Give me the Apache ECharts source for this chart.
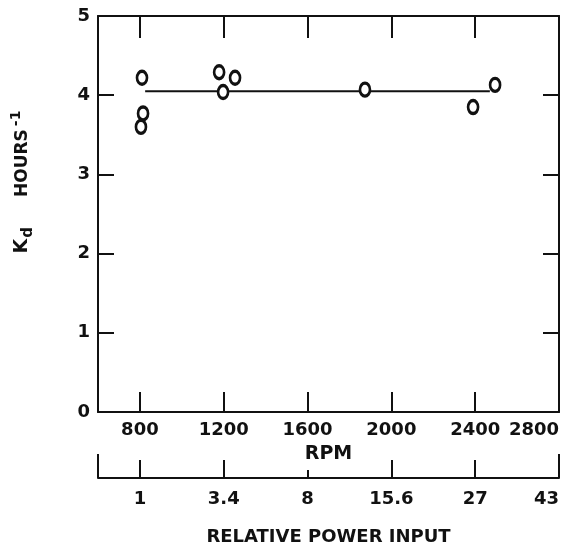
<!DOCTYPE html>
<html>
<head>
<meta charset="utf-8">
<script src="https://cdn.jsdelivr.net/npm/echarts@6/dist/echarts.min.js"></script>
<style>
  html, body { margin: 0; padding: 0; background: #fff; }
  #main { width: 568px; height: 544px; }
</style>
</head>
<body>
<div id="main"></div>
<script>
// measured points (rpm, Kd)
var rpm = [810, 815, 805, 1178, 1254, 1197, 1874, 2390, 2495];
var kd = [4.22, 3.77, 3.60, 4.29, 4.22, 4.04, 4.07, 3.85, 4.13];
// fitted mean line
var lineRpm = [825, 2470];
var lineKd = [4.05, 4.05];
// axis ticks
var rpmTicks = [800, 1200, 1600, 2000, 2400, 2800];
var powerLabels = ['1', '3.4', '8', '15.6', '27', '43'];
var kdTicks = [0, 1, 2, 3, 4, 5];

var ink = '#111';
var font = 'DejaVu Sans';
var lbl = { color: ink, fontFamily: font, fontWeight: 'bold', fontSize: 18 };

var chart = echarts.init(document.getElementById('main'));

function powerLabel(v) {
  var i = rpmTicks.indexOf(v);
  return i >= 0 ? powerLabels[i] : '';
}
function plain(v) { return String(v); }

var tickStyle = { color: ink, width: 2 };
var lineStyle = { onZero: false, lineStyle: { color: ink, width: 2 } };

var option = {
  animation: false,
  grid: [
    { left: 98, right: 9, top: 16, bottom: 132, outerBoundsMode: 'none' },
    { left: 98, right: 9, top: 477, height: 1, outerBoundsMode: 'none' }
  ],
  xAxis: [
    {
      gridIndex: 0, type: 'value', min: 600, max: 2800, position: 'bottom',
      name: 'RPM', nameLocation: 'middle', nameGap: 33,
      nameTextStyle: Object.assign({}, lbl, { fontSize: 19 }),
      axisLine: lineStyle,
      axisTick: { inside: true, length: 20, customValues: [800, 1200, 1600, 2000, 2400], lineStyle: tickStyle },
      axisLabel: Object.assign({}, lbl, { customValues: rpmTicks, margin: 9, alignMaxLabel: 'right', formatter: plain }),
      splitLine: { show: false }
    },
    {
      gridIndex: 0, type: 'value', min: 600, max: 2800, position: 'top',
      axisLine: lineStyle,
      axisTick: { inside: true, length: 22, customValues: [800, 1200, 1600, 2000, 2400], lineStyle: tickStyle },
      axisLabel: { show: false },
      splitLine: { show: false }
    },
    {
      gridIndex: 1, type: 'value', min: 600, max: 2800, position: 'bottom',
      name: 'RELATIVE POWER INPUT', nameLocation: 'middle', nameGap: 50,
      nameTextStyle: Object.assign({}, lbl, { fontSize: 18 }),
      axisLine: lineStyle,
      axisTick: { inside: true, length: 18, customValues: [800, 1200, 2000, 2400], lineStyle: tickStyle },
      axisLabel: Object.assign({}, lbl, { customValues: rpmTicks, margin: 12, alignMaxLabel: 'right', formatter: powerLabel }),
      splitLine: { show: false }
    },
    {
      gridIndex: 1, type: 'value', min: 600, max: 2800, position: 'bottom',
      axisLine: { show: false },
      axisTick: { inside: true, length: 8, customValues: [1600], lineStyle: tickStyle },
      axisLabel: { show: false },
      splitLine: { show: false }
    },
    {
      gridIndex: 1, type: 'value', min: 600, max: 2800, position: 'bottom',
      axisLine: { show: false },
      axisTick: { inside: true, length: 24, customValues: [600, 2800], lineStyle: tickStyle },
      axisLabel: { show: false },
      splitLine: { show: false }
    }
  ],
  yAxis: [
    {
      gridIndex: 0, type: 'value', min: 0, max: 5, interval: 1, position: 'left',
      name: '{k|K}{d|d}{h|HOURS}{s|-1}', nameLocation: 'middle', nameGap: 62, nameRotate: 90,
      nameTextStyle: {
        color: ink, fontFamily: font, fontWeight: 'bold', padding: [0, 0, 0, 64],
        rich: {
          k: { fontSize: 19, fontWeight: 'bold', fontFamily: font, color: ink },
          d: { fontSize: 15, fontWeight: 'bold', fontFamily: font, color: ink, padding: [12, 30, 0, 1] },
          h: { fontSize: 17, fontWeight: 'bold', fontFamily: font, color: ink },
          s: { fontSize: 14, fontWeight: 'bold', fontFamily: font, color: ink, padding: [0, 0, 12, 3] }
        }
      },
      axisLine: lineStyle,
      axisTick: { inside: true, length: 16, customValues: [1, 2, 3, 4], lineStyle: tickStyle },
      axisLabel: Object.assign({}, lbl, { customValues: kdTicks, margin: 8 }),
      splitLine: { show: false }
    },
    {
      gridIndex: 0, type: 'value', min: 0, max: 5, interval: 1, position: 'right',
      axisLine: lineStyle,
      axisTick: { inside: true, length: 16, customValues: [1, 2, 3, 4], lineStyle: tickStyle },
      axisLabel: { show: false },
      splitLine: { show: false }
    },
    { gridIndex: 1, type: 'value', min: 0, max: 1, show: false }
  ],
  series: [
    {
      type: 'line', xAxisIndex: 0, yAxisIndex: 0,
      data: lineRpm.map(function (x, i) { return [x, lineKd[i]]; }),
      symbol: 'none', lineStyle: { color: ink, width: 2 }, z: 2
    },
    {
      type: 'scatter', xAxisIndex: 0, yAxisIndex: 0,
      data: rpm.map(function (x, i) { return [x, kd[i]]; }),
      symbol: 'circle', symbolSize: [10, 13],
      itemStyle: { color: '#fff', borderColor: ink, borderWidth: 3, opacity: 1 },
      z: 3
    }
  ]
};
chart.setOption(option);
</script>
</body>
</html>
